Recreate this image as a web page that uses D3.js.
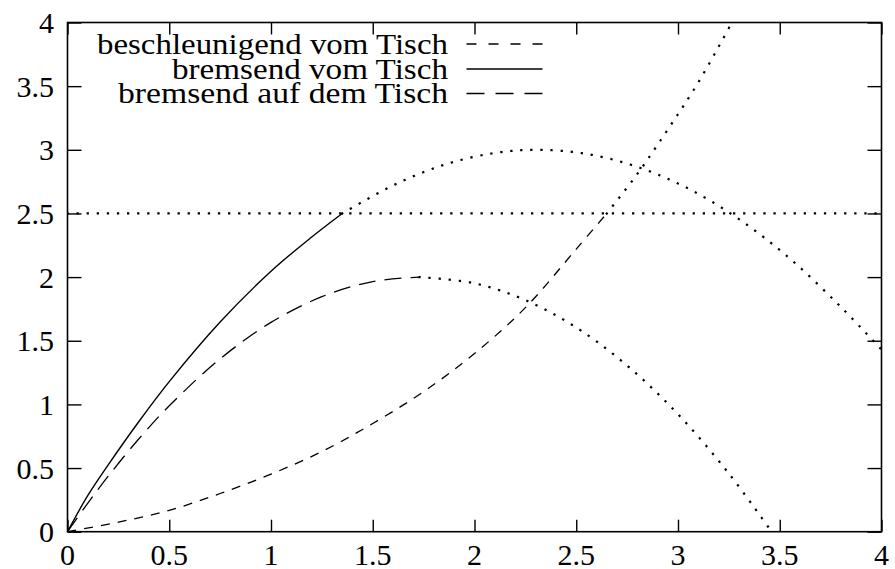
<!DOCTYPE html>
<html>
<head>
<meta charset="utf-8">
<script src="https://cdn.jsdelivr.net/npm/d3@7"></script>
<style>
  html, body { margin: 0; padding: 0; background: #fff; }
  svg { display: block; }
</style>
</head>
<body>
<svg id="chart" width="895" height="569"></svg>
<script>
// ---- data ----
const xTicks = [0, 0.5, 1, 1.5, 2, 2.5, 3, 3.5, 4];
const yTicks = [0, 0.5, 1, 1.5, 2, 2.5, 3, 3.5, 4];
const xTickLabels = ["0", "0.5", "1", "1.5", "2", "2.5", "3", "3.5", "4"];
const yTickLabels = ["0", "0.5", "1", "1.5", "2", "2.5", "3", "3.5", "4"];

const legendLabels = ["beschleunigend vom Tisch", "bremsend vom Tisch", "bremsend auf dem Tisch"];

// "beschleunigend vom Tisch": short-dashed part, then dotted continuation
const accelX    = [0, 0.25, 0.5, 0.75, 1.0, 1.25, 1.5, 1.75, 2.0, 2.25, 2.5, 2.65];
const accelY    = [0, 0.075, 0.168, 0.30, 0.452, 0.63, 0.85, 1.10, 1.40, 1.76, 2.22, 2.5];
const accelDotX = [2.65, 2.8, 2.95, 3.1, 3.265];
const accelDotY = [2.5, 2.81, 3.16, 3.53, 4.0];

// "bremsend vom Tisch": solid part, then dotted continuation
const brakeX    = [0, 0.1, 0.2, 0.35, 0.5, 0.75, 1.0, 1.2, 1.35];
const brakeY    = [0, 0.285, 0.525, 0.864, 1.179, 1.647, 2.046, 2.315, 2.5];
const brakeDotX = [1.35, 1.6, 1.85, 2.1, 2.31, 2.55, 2.8, 3.05, 3.3, 3.55, 3.8, 4.0];
const brakeDotY = [2.5, 2.72, 2.882, 2.975, 3.0, 2.968, 2.866, 2.696, 2.455, 2.145, 1.766, 1.43];

// "bremsend auf dem Tisch": long-dashed part, then dotted continuation
const tableX    = [0, 0.1, 0.2, 0.35, 0.5, 0.75, 1.0, 1.25, 1.5, 1.73];
const tableY    = [0, 0.225, 0.436, 0.728, 0.989, 1.358, 1.644, 1.846, 1.965, 2.0];
const tableDotX = [1.73, 2.0, 2.25, 2.5, 2.75, 3.0, 3.25, 3.46];
const tableDotY = [2.0, 1.951, 1.819, 1.604, 1.305, 0.923, 0.457, 0.0];

// horizontal dotted line (table height)
const levelX = [0, 4];
const levelY = [2.5, 2.5];

// ---- drawing ----
const W = 895, H = 569;
const FONT = "'Liberation Serif', 'Times New Roman', 'DejaVu Serif', serif";
const margin = { left: 67.5, right: 13.5, top: 22.5, bottom: 37.3 };
const svg = d3.select("#chart");

const x = d3.scaleLinear().domain([0, 4]).range([margin.left, W - margin.right]);
const y = d3.scaleLinear().domain([0, 4]).range([H - margin.bottom, margin.top]);

const zip = (xs, ys) => xs.map((v, i) => [v, ys[i]]);
const line = d3.line().x(d => x(d[0])).y(d => y(d[1])).curve(d3.curveCatmullRom.alpha(0.5));

svg.append("clipPath").attr("id", "plotclip")
  .append("rect")
  .attr("x", x(0)).attr("y", y(4))
  .attr("width", x(4) - x(0)).attr("height", y(0) - y(4));

const styles = {
  short: { dash: "9,8", width: 1.3 },
  solid: { dash: null, width: 1.4 },
  long:  { dash: "17,9", width: 1.3 },
  dot:   { dash: "0.1,10", width: 2.2, cap: "square" }
};

const plot = svg.append("g").attr("clip-path", "url(#plotclip)");

function drawSeries(xs, ys, st) {
  plot.append("path")
    .datum(zip(xs, ys))
    .attr("d", line)
    .attr("fill", "none")
    .attr("stroke", "#000")
    .attr("stroke-width", st.width)
    .attr("stroke-dasharray", st.dash)
    .attr("stroke-linecap", st.cap || "butt");
}

drawSeries(levelX, levelY, styles.dot);
drawSeries(accelX, accelY, styles.short);
drawSeries(accelDotX, accelDotY, styles.dot);
drawSeries(brakeX, brakeY, styles.solid);
drawSeries(brakeDotX, brakeDotY, styles.dot);
drawSeries(tableX, tableY, styles.long);
drawSeries(tableDotX, tableDotY, styles.dot);

// axes: ticks inside on all four sides (mirrored), labels drawn separately
const xTickLen = 12, yTickLen = 14;
svg.append("g").attr("transform", `translate(0,${y(0)})`)
  .call(d3.axisTop(x).tickValues(xTicks).tickSize(xTickLen).tickFormat(""))
  .call(g => g.select(".domain").remove());
svg.append("g").attr("transform", `translate(0,${y(4)})`)
  .call(d3.axisBottom(x).tickValues(xTicks).tickSize(xTickLen).tickFormat(""))
  .call(g => g.select(".domain").remove());
svg.append("g").attr("transform", `translate(${x(0)},0)`)
  .call(d3.axisRight(y).tickValues(yTicks).tickSize(yTickLen).tickFormat(""))
  .call(g => g.select(".domain").remove());
svg.append("g").attr("transform", `translate(${x(4)},0)`)
  .call(d3.axisLeft(y).tickValues(yTicks).tickSize(yTickLen).tickFormat(""))
  .call(g => g.select(".domain").remove());
svg.selectAll(".tick line").attr("stroke", "#000").attr("stroke-width", 1.4);

// frame
svg.append("rect")
  .attr("x", x(0)).attr("y", y(4))
  .attr("width", x(4) - x(0)).attr("height", y(0) - y(4))
  .attr("fill", "none").attr("stroke", "#000").attr("stroke-width", 1.6);

// tick labels
svg.append("g").selectAll("text").data(xTicks).join("text")
  .attr("x", d => x(d)).attr("y", y(0) + 33.5)
  .attr("text-anchor", "middle").attr("font-size", 30)
  .attr("font-family", FONT).attr("fill", "#000")
  .text((d, i) => xTickLabels[i]);
svg.append("g").selectAll("text").data(yTicks).join("text")
  .attr("x", 54).attr("y", d => y(d) + 10.5)
  .attr("text-anchor", "end").attr("font-size", 30)
  .attr("font-family", FONT).attr("fill", "#000")
  .text((d, i) => yTickLabels[i]);

// legend
const legendStyles = [styles.short, styles.solid, styles.long];
const legendWidths = [351, 276, 330];
const legendBase = [53.5, 78.5, 103];
const lg = svg.append("g");
legendLabels.forEach((lab, i) => {
  lg.append("text")
    .attr("x", 448).attr("y", legendBase[i])
    .attr("text-anchor", "end").attr("font-size", 29)
    .attr("font-family", FONT).attr("fill", "#000")
    .attr("textLength", legendWidths[i]).attr("lengthAdjust", "spacingAndGlyphs")
    .text(lab);
  const st = legendStyles[i];
  lg.append("line")
    .attr("x1", 466.5).attr("x2", 542.5)
    .attr("y1", legendBase[i] - 9.5).attr("y2", legendBase[i] - 9.5)
    .attr("stroke", "#000").attr("stroke-width", st.width)
    .attr("stroke-dasharray", i === 0 ? "10,12" : (i === 2 ? "18,11" : null));
});
</script>
</body>
</html>
